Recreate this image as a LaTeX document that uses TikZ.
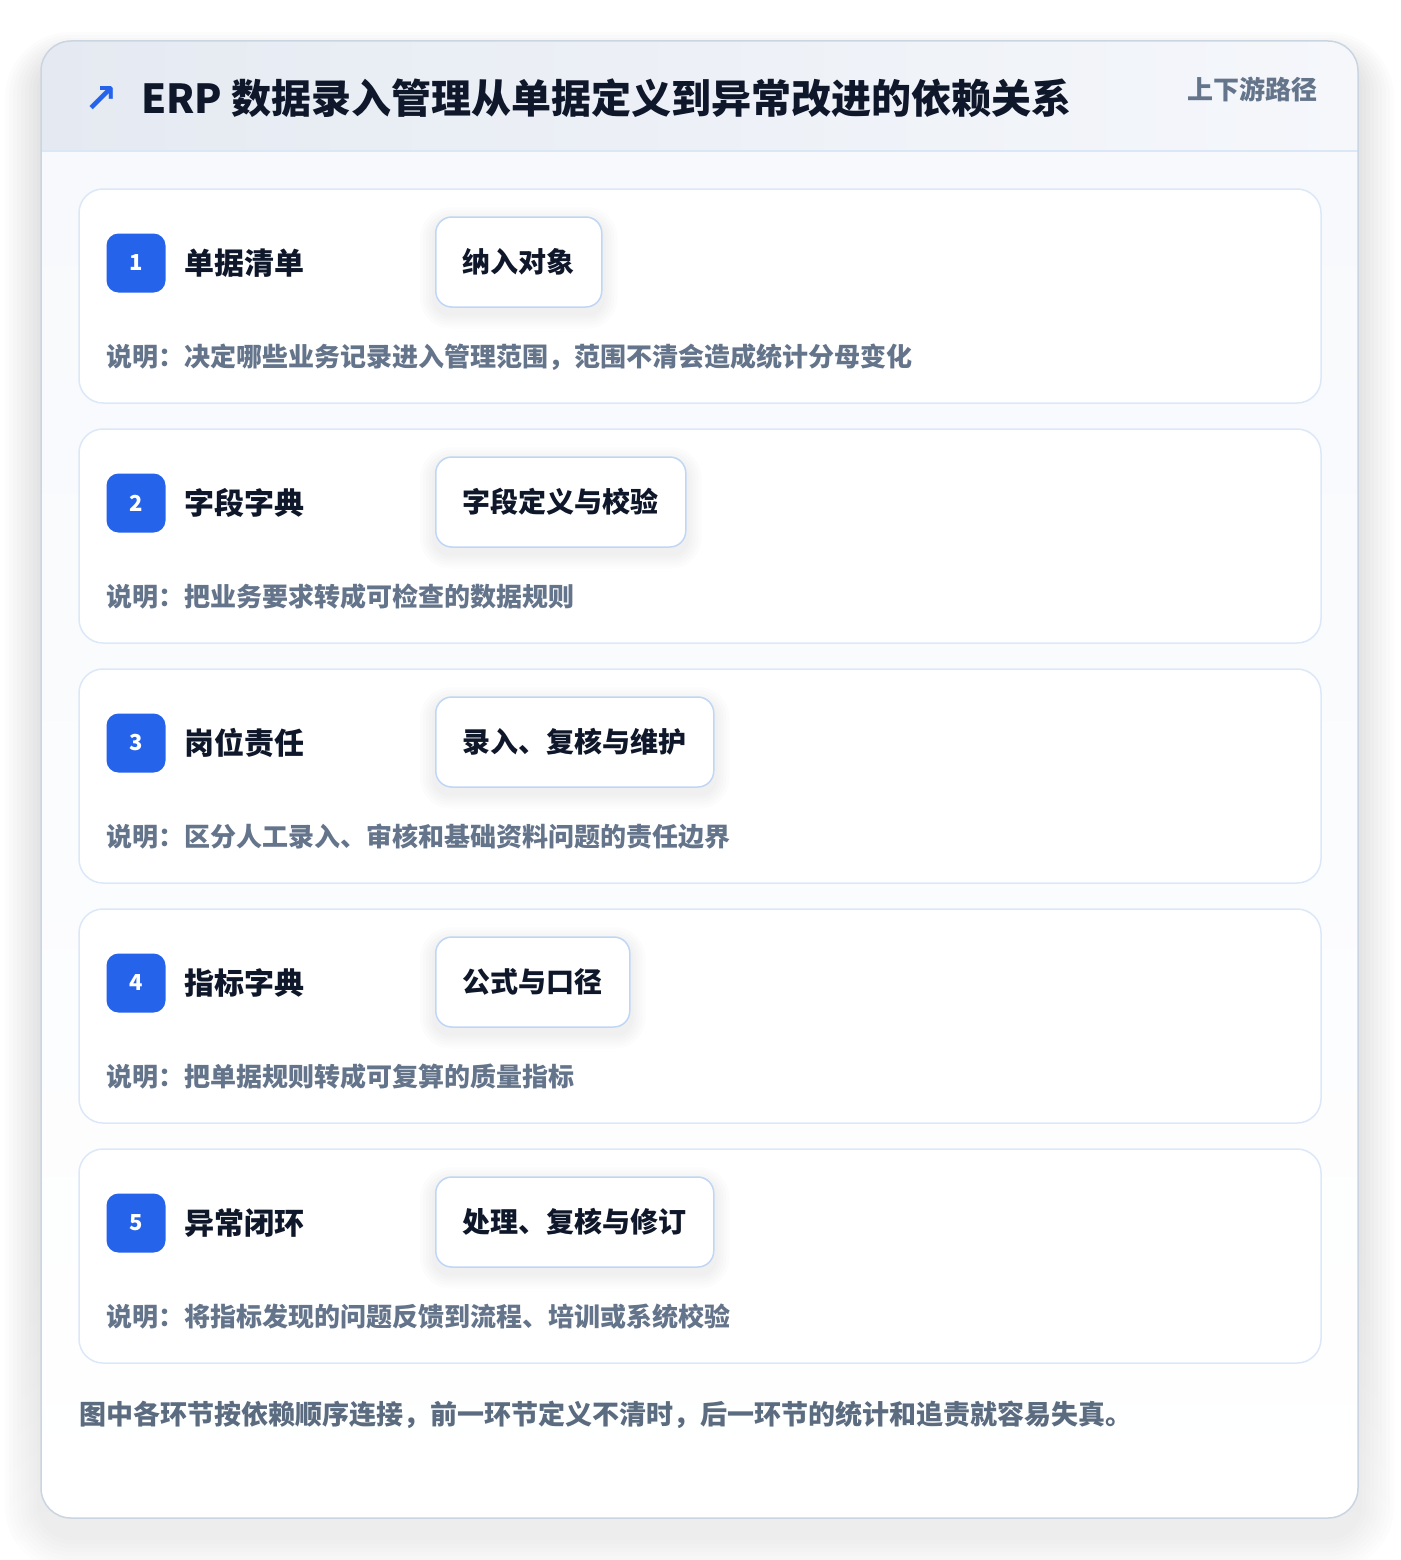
\documentclass[tikz,border=0pt]{standalone}
\usepackage{fontspec}
\setmainfont{Noto Sans CJK SC}
\newfontfamily\arrowfont{DejaVu Sans}

\definecolor{ink}{HTML}{0F172A}
\definecolor{muted}{HTML}{64748B}
\definecolor{footgray}{HTML}{5B6B80}
\definecolor{accent}{HTML}{2563EB}
\definecolor{frame}{HTML}{CBD5E1}
\definecolor{cardedge}{HTML}{DCE8F8}
\definecolor{tagedge}{HTML}{BFD7F5}
\definecolor{headleft}{HTML}{E5EAF2}
\definecolor{headright}{HTML}{F5F7FB}
\definecolor{headline}{HTML}{DBE7F5}
\definecolor{bodybg}{HTML}{F7F9FC}
\definecolor{shade}{HTML}{334155}

\pgfdeclarelayer{back}
\pgfdeclarelayer{glow}
\pgfsetlayers{back,glow,main}

\begin{document}
\begin{tikzpicture}[x=1pt,y=-1pt,
  card/.style={draw=cardedge, line width=1.5pt, fill=white, rounded corners=24pt},
  badge/.style={fill=accent, rounded corners=12pt, minimum size=59pt, inner sep=0pt,
    text=white, font=\bfseries\fontsize{22}{22}\selectfont},
  steplabel/.style={anchor=west, inner sep=0pt, text=ink, font=\bfseries\fontsize{30}{30}\selectfont},
  tagbox/.style={anchor=west, draw=tagedge, line width=1.5pt, fill=white, rounded corners=16pt,
    minimum height=90pt, inner xsep=27pt, inner ysep=0pt, text=ink,
    font=\bfseries\fontsize{28}{28}\selectfont},
  note/.style={anchor=west, inner sep=0pt, text=muted, font=\bfseries\fontsize{26}{26}\selectfont}
]
  \useasboundingbox (0,0) rectangle (1400,1560);

  \begin{pgfonlayer}{back}
  \fill[white] (0,0) rectangle (1400,1560);
  % soft shadow of the outer panel
  \foreach \k in {1,...,9} {
    \pgfmathsetmacro\rad{30+4*\k}
    \fill[shade, opacity=0.009, rounded corners=\rad pt]
      (41-4*\k,41-3*\k+18) rectangle (1358+4*\k,1518+4*\k+18);
  }
  % outer panel
  \begin{scope}
    \clip[rounded corners=30pt] (41,41) rectangle (1358,1518);
    \fill[top color=bodybg, bottom color=white] (41,151) rectangle (1358,1518);
    \fill[left color=headleft, right color=headright] (41,41) rectangle (1358,151);
    \draw[headline, line width=1.5pt] (41,151) -- (1358,151);
  \end{scope}
  \draw[frame, line width=1.5pt, rounded corners=30pt] (41,41) rectangle (1358,1518);
  \end{pgfonlayer}

  % header
  \node[inner sep=0pt, text=accent, font=\arrowfont\bfseries\fontsize{40}{40}\selectfont] (icon) at (101,100) {↗};
  \node[anchor=west, inner sep=0pt, text=ink, font=\bfseries\fontsize{40}{40}\selectfont] (title) at (141,98)
    {ERP 数据录入管理从单据定义到异常改进的依赖关系};
  \node[anchor=east, inner sep=0pt, text=muted, font=\bfseries\fontsize{26}{26}\selectfont] (route) at (1318,89)
    {上下游路径};

  % the five steps
  \foreach \i/\name/\tag/\desc in {
      1/单据清单/纳入对象/决定哪些业务记录进入管理范围，范围不清会造成统计分母变化,
      2/字段字典/字段定义与校验/把业务要求转成可检查的数据规则,
      3/岗位责任/录入、复核与维护/区分人工录入、审核和基础资料问题的责任边界,
      4/指标字典/公式与口径/把单据规则转成可复算的质量指标,
      5/异常闭环/处理、复核与修订/将指标发现的问题反馈到流程、培训或系统校验}
  {
    \pgfmathsetmacro\rowy{189+(\i-1)*240}
    \begin{pgfonlayer}{back}
      \draw[card] (79,\rowy) rectangle ++(1242,214);
    \end{pgfonlayer}
    \node[badge] (badge\i) at (136,\rowy+74) {\i};
    \node[steplabel] (name\i) at (184,\rowy+74) {\name};
    \node[tagbox] (tag\i) at (435,\rowy+73) {\tag};
    \node[note] (desc\i) at (106,\rowy+168) {说明：\desc};
    % faint glow under the tag
    \begin{pgfonlayer}{glow}
    \foreach \k in {1,...,5} {
      \pgfmathsetmacro\rad{16+3*\k}
      \fill[shade, opacity=0.007, rounded corners=\rad pt]
        ([xshift=-3*\k pt, yshift=3*\k pt-6pt]tag\i.north west) rectangle
        ([xshift=3*\k pt, yshift=-3*\k pt-6pt]tag\i.south east);
    }
    \end{pgfonlayer}
  }

  % footer remark
  \node[anchor=west, inner sep=0pt, text=footgray, font=\bfseries\fontsize{27}{27}\selectfont] (remark) at (79,1415)
    {图中各环节按依赖顺序连接，前一环节定义不清时，后一环节的统计和追责就容易失真。};
\end{tikzpicture}
\end{document}
